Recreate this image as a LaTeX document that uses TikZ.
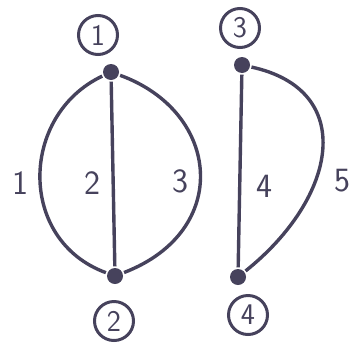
\documentclass[tikz,border=0pt]{standalone}
\usepackage{amsmath,amssymb}
\usepackage{tikz}
\definecolor{ink}{RGB}{70,66,92}

\begin{document}
\begin{tikzpicture}[x=1pt,y=-1pt,line width=3.4pt,ink,
  vert/.style={circle,fill=ink,inner sep=0pt,minimum size=16pt},
  tag/.style={circle,draw,line width=3pt,inner sep=0pt,minimum size=39pt,
    font=\sffamily\fontsize{30}{32}\selectfont},
  lbl/.style={font=\sffamily\fontsize{34}{36}\selectfont}]
\useasboundingbox (0,0) rectangle (352,343);
% vertices 1 and 2
\node[vert] (v1) at (111,72) {};
\node[vert] (v2) at (115,276) {};
\node[tag] (t1) at (98,35) {1};
\node[tag] (t2) at (114,321) {2};
\draw (v1) .. controls +(-91,43) and +(-98,-36) .. (v2);
\draw (v1) -- (v2);
\draw (v1) .. controls +(110,40) and +(117,-45) .. (v2);
\node[lbl] (e1) at (20,183) {1};
\node[lbl] (e2) at (92,183) {2};
\node[lbl] (e3) at (180,181) {3};
% vertices 3 and 4
\node[vert] (v3) at (242,65) {};
\node[vert] (v4) at (238,277) {};
\node[tag] (t3) at (240,28) {3};
\node[tag] (t4) at (248,315) {4};
\draw (v3) -- (v4);
\draw (v3) .. controls +(115,25) and +(100,-80) .. (v4);
\node[lbl] (e4) at (264,186) {4};
\node[lbl] (e5) at (342,181) {5};
\end{tikzpicture}
\end{document}
